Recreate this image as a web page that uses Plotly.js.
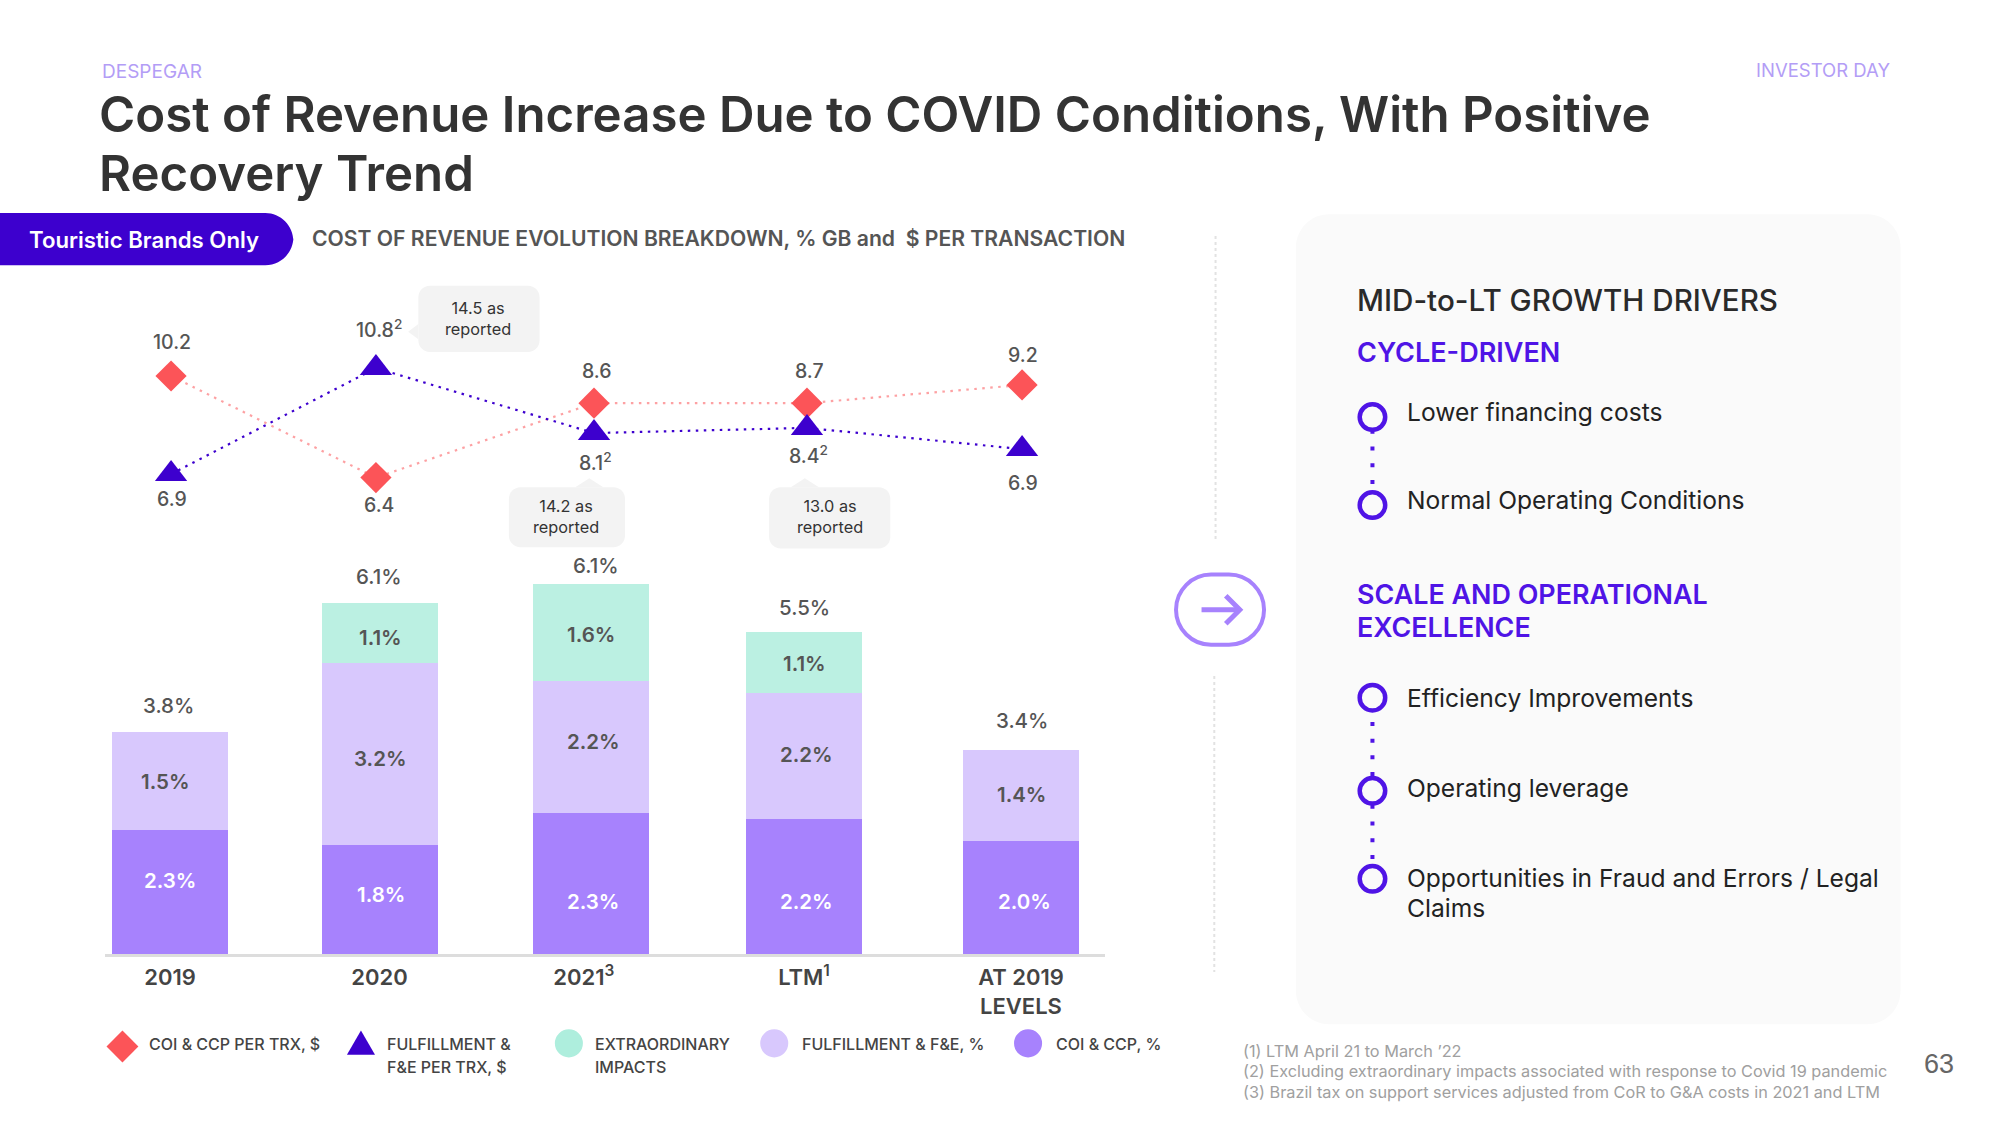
<!DOCTYPE html>
<html><head><meta charset="utf-8">
<script src="https://cdn.plot.ly/plotly-3.0.1.min.js"></script>
<style>html,body{margin:0;padding:0;background:#fff}#c{width:2000px;height:1125px}</style>
</head><body><div id="c"></div>
<script>
// ---- data ----
const categories = ['2019','2020','2021<sup>3</sup>','LTM<sup>1</sup>','AT 2019<br>LEVELS'];
const barSlots = [0, 0.985, 1.977, 2.98, 4.0];
const labelSlots = [0, 0.985, 1.945, 2.98, 4.0];
const markerSlots = [0.005, 0.968, 1.993, 2.994, 4.005];
// drawn heights of the stacked segments, % of GB
const coiPct = [2.11, 1.85, 2.41, 2.30, 1.93];
const fulfilPct = [1.67, 3.11, 2.24, 2.15, 1.54];
const extraPct = [null, 1.02, 1.65, 1.04, null];
// printed labels
const coiLabels = ['2.3%','1.8%','2.3%','2.2%','2.0%'];
const fulfilLabels = ['1.5%','3.2%','2.2%','2.2%','1.4%'];
const extraLabels = [null,'1.1%','1.6%','1.1%',null];
const totalLabels = ['3.8%','6.1%','6.1%','5.5%','3.4%'];
// drawn heights of the line markers
const coiTrx = [10.2, 6.46, 9.2, 9.2, 9.87];
const fulfilTrx = [6.59, 10.49, 8.10, 8.29, 7.51];
const coiTrxLabels = ['10.2','6.4','8.6','8.7','9.2'];
const fulfilTrxLabels = ['6.9','10.8<sup>2</sup>','8.1<sup>2</sup>','8.4<sup>2</sup>','6.9'];
const reportedNotes = ['14.5 as<br>reported','14.2 as<br>reported','13.0 as<br>reported'];
const seriesNames = ['COI & CCP, %','FULFILLMENT & F&E, %','EXTRAORDINARY IMPACTS','COI & CCP PER TRX, $','FULFILLMENT & F&E PER TRX, $'];

// ---- style ----
const FONT='Inter, Roboto, sans-serif';
const C={dark:'#A782FD',light:'#D8C8FD',mint:'#BBF0E2',red:'#FC5458',blue:'#3D00CE',vio:'#4F14E6',grey:'#555555',lilac:'#B39DF6'};
const K=2000/1568;               // positions below are in the 1568-wide frame
const px=x=>x*K/2000, py=y=>1-y*K/1125;

const annotations=[];
function T(text,x,y,size,color,weight,anchor){
  annotations.push({text,x:px(x),y:py(y),xref:'paper',yref:'paper',showarrow:false,
    xanchor:anchor||'center',yanchor:'middle',align:anchor||'center',borderpad:0,
    font:{family:FONT,size,color,weight:weight||400}});
}
const shapes=[];
function P(cmds,fill,line,width,layer){
  const d=cmds.map(c=>{ if(c[0]==='Z')return 'Z'; let o=c[0];
    for(let i=1;i<c.length;i+=2)o+=(i>1?' ':'')+px(c[i]).toFixed(5)+','+py(c[i+1]).toFixed(5); return o;}).join(' ');
  shapes.push({type:'path',path:d,xref:'paper',yref:'paper',fillcolor:fill||'rgba(0,0,0,0)',
    line:{color:line||'rgba(0,0,0,0)',width:width||0},layer:layer||'below'});
}
function RR(x0,y0,x1,y1,r,fill,line,width){
  const k=r*0.45;
  P([['M',x0+r,y0],['L',x1-r,y0],['C',x1-k,y0,x1,y0+k,x1,y0+r],['L',x1,y1-r],['C',x1,y1-k,x1-k,y1,x1-r,y1],
     ['L',x0+r,y1],['C',x0+k,y1,x0,y1-k,x0,y1-r],['L',x0,y0+r],['C',x0,y0+k,x0+k,y0,x0+r,y0],['Z']],fill,line,width);
}
function CIRC(x,y,r,fill,line,width){
  shapes.push({type:'circle',xref:'paper',yref:'paper',x0:px(x-r),x1:px(x+r),y0:py(y+r),y1:py(y-r),
    fillcolor:fill||'rgba(0,0,0,0)',line:{color:line||'rgba(0,0,0,0)',width:width||0},layer:'above'});
}
function DOTS(x0,y0,x1,y1,color,width,dash){
  shapes.push({type:'line',xref:'paper',yref:'paper',x0:px(x0),x1:px(x1),y0:py(y0),y1:py(y1),
    line:{color,width,dash},layer:'below'});
}

// header
T('DESPEGAR',79.5,56,19,C.lilac,400,'left');
T('INVESTOR DAY',1482.5,55,18.5,C.lilac,400,'right');
T('Cost of Revenue Increase Due to COVID Conditions, With Positive',77,89,49.2,'#333333',600,'left');
T('Recovery Trend',77,136,49.2,'#333333',600,'left');
RR(-20,167,230,208,22,C.blue);
T('Touristic Brands Only',113,188,22.2,'#ffffff',600);
T('COST OF REVENUE EVOLUTION BREAKDOWN, % GB and  $ PER TRANSACTION',244,187,21.15,'#555555',600,'left');

// bubbles
const BUB='#F3F3F3';
RR(328,224,423,276,9,BUB);  P([['M',320,260],['L',328,254],['L',328,266],['Z']],BUB);
RR(399,382,490,429,9,BUB);  P([['M',462,375],['L',451,382],['L',473,382],['Z']],BUB);
RR(603,382,698,430,9,BUB);  P([['M',631,375],['L',620,382],['L',642,382],['Z']],BUB);
T(reportedNotes[0],375,250,16.3,'#333333');
T(reportedNotes[1],444,405,16.3,'#333333');
T(reportedNotes[2],651,405,16.3,'#333333');

// labels of the marks
const lineLabelXY=[[135,268.5],[297,396],[468,291],[635,291],[802,278]];
const lineLabelXY2=[[135,391],[297,258],[467,362],[634,357],[802,379]];
coiTrxLabels.forEach((t,i)=>T(t,lineLabelXY[i][0],lineLabelXY[i][1],19.5,C.grey,500));
fulfilTrxLabels.forEach((t,i)=>T(t,lineLabelXY2[i][0],lineLabelXY2[i][1],19.5,C.grey,500));
const totalXY=[[132,553.5],[297,452],[467,443.5],[631,476],[801,565]];
totalLabels.forEach((t,i)=>T(t,totalXY[i][0],totalXY[i][1],20.5,C.grey,500));
const coiXY=[[133,690.5],[299,701.5],[465,706.5],[632,706.5],[803,706.5]];
const fulXY=[[130,612.5],[298,594.5],[465,581.5],[632,591.5],[801,622.5]];
const extXY=[null,[298,500],[463,497.5],[631,520.5],null];
coiLabels.forEach((t,i)=>T(t,coiXY[i][0],coiXY[i][1],20.5,'#ffffff',600));
fulfilLabels.forEach((t,i)=>T(t,fulXY[i][0],fulXY[i][1],20.5,C.grey,600));
extraLabels.forEach((t,i)=>{if(t)T(t,extXY[i][0],extXY[i][1],20.5,C.grey,600)});

// legend
const LG='#444444',LS=16;
P([['M',96,808],['L',108.5,820.5],['L',96,833],['L',83.5,820.5],['Z']],C.red,null,0,'above');
P([['M',283,808],['L',294,827],['L',272,827],['Z']],C.blue,null,0,'above');
CIRC(446,818,11,'#AEEEDD'); CIRC(607,818,11,C.light); CIRC(806,818,11,C.dark);
T('COI & CCP PER TRX, $',116,818.5,LS,LG,500,'left');
T('FULFILLMENT &',303,818.5,LS,LG,500,'left');
T('F&E PER TRX, $',303,836.5,LS,LG,500,'left');
T('EXTRAORDINARY',466,818.5,LS,LG,500,'left');
T('IMPACTS',466,836.5,LS,LG,500,'left');
T('FULFILLMENT & F&E, %',628,818.5,LS,LG,500,'left');
T('COI & CCP, %',827,818.5,LS,LG,500,'left');

// divider + arrow
DOTS(953,185,953,425,'#E2E2E2',2,'dot');
DOTS(952,530,952,762,'#E2E2E2',2,'dot');
RR(922,450.5,991,505.5,27.5,'rgba(0,0,0,0)',C.dark,4);
P([['M',942,478],['L',972,478]],null,C.dark,5,'above');
P([['M',961,467],['L',972,478],['L',961,489]],null,C.dark,5,'above');

// right card
RR(1016,168,1490,803,26,'#FAFAFA');
T('MID-to-LT GROWTH DRIVERS',1063,235.5,29.6,'#2A2A2A',500,'left');
T('CYCLE-DRIVEN',1063,276.5,27,C.vio,600,'left');
T('SCALE AND OPERATIONAL',1063,465.5,26.9,C.vio,600,'left');
T('EXCELLENCE',1063,491.5,26.9,C.vio,600,'left');
const BT='#222222',BS=24.6;
T('Lower financing costs',1102,323,BS,BT,400,'left');
T('Normal Operating Conditions',1102,392,BS,BT,400,'left');
T('Efficiency Improvements',1102,547,BS,BT,400,'left');
T('Operating leverage',1102,618,BS,BT,400,'left');
T('Opportunities in Fraud and Errors / Legal',1102,688,BS,BT,400,'left');
T('Claims',1102,712,BS,BT,400,'left');
[327,396,547,620,689].forEach(y=>CIRC(1076,y,10,'#FAFAFA',C.vio,4.5));
const dd='4px,12.7px';
DOTS(1076,337,1076,386,C.vio,4,dd);
DOTS(1076,566,1076,610,C.vio,4,dd);
DOTS(1076,631,1076,679,C.vio,4,dd);

// footnotes
const FN='#A0A0A0';
T('(1) LTM April 21 to March ’22',974,824,16.3,FN,400,'left');
T('(2) Excluding extraordinary impacts associated with response to Covid 19 pandemic',974,840,16.3,FN,400,'left');
T('(3) Brazil tax on support services adjusted from CoR to G&A costs in 2021 and LTM',974,856,16.3,FN,400,'left');
annotations.push({text:'63',x:px(1520),y:py(834),xref:'paper',yref:'paper',showarrow:false,xanchor:'center',yanchor:'middle',
  font:{family:'Liberation Sans, Arial',size:27,color:'#666666'}});

// ---- traces ----
const bar=(y,name,color)=>({type:'bar',x:barSlots,y,name,width:0.545,marker:{color,line:{width:0}},xaxis:'x',yaxis:'y',hoverinfo:'skip'});
const line=(y,name,color,lineColor,symbol,size)=>({type:'scatter',mode:'lines+markers',x:markerSlots,y,name,xaxis:'x',yaxis:'y2',cliponaxis:false,
  line:{color:lineColor,width:2.2,dash:'2.5px,5.5px'},marker:{color,symbol,size,line:{width:0}},hoverinfo:'skip'});
const traces=[
  bar(coiPct,seriesNames[0],C.dark),
  bar(fulfilPct,seriesNames[1],C.light),
  bar(extraPct,seriesNames[2],C.mint),
  line(coiTrx,seriesNames[3],C.red,'rgba(252,84,88,0.55)','diamond',24),
  line(fulfilTrx,seriesNames[4],C.blue,C.blue,'triangle-up',28)
];
const slotPx=212.75, x0Px=170, axisL=105, axisR=1105, basePx=954, topPx=554;
const layout={
  width:2000,height:1125,margin:{l:0,r:0,t:0,b:0,pad:0},paper_bgcolor:'#fff',plot_bgcolor:'rgba(0,0,0,0)',
  showlegend:false,barmode:'stack',hovermode:false,
  xaxis:{domain:[axisL/2000,axisR/2000],range:[(axisL-x0Px)/slotPx,(axisR-x0Px)/slotPx],anchor:'y',
    tickmode:'array',tickvals:labelSlots,ticktext:categories,showgrid:false,zeroline:false,
    showline:true,linecolor:'#DDDDDD',linewidth:3,ticks:'outside',ticklen:2,tickcolor:'rgba(0,0,0,0)',
    tickfont:{family:FONT,size:22,color:'#444444',weight:600}},
  yaxis:{domain:[1-basePx/1125,1-topPx/1125],range:[0,(basePx-topPx)/58.7],visible:false,showgrid:false,zeroline:false,anchor:'x'},
  yaxis2:{domain:[1-520/1125,1-340/1125],range:[10.2-(520-376)/27.17,10.2+36/27.17],visible:false,showgrid:false,zeroline:false,anchor:'x'},
  shapes,annotations
};
Plotly.newPlot('c',traces,layout,{staticPlot:true,displayModeBar:false});
</script></body></html>
